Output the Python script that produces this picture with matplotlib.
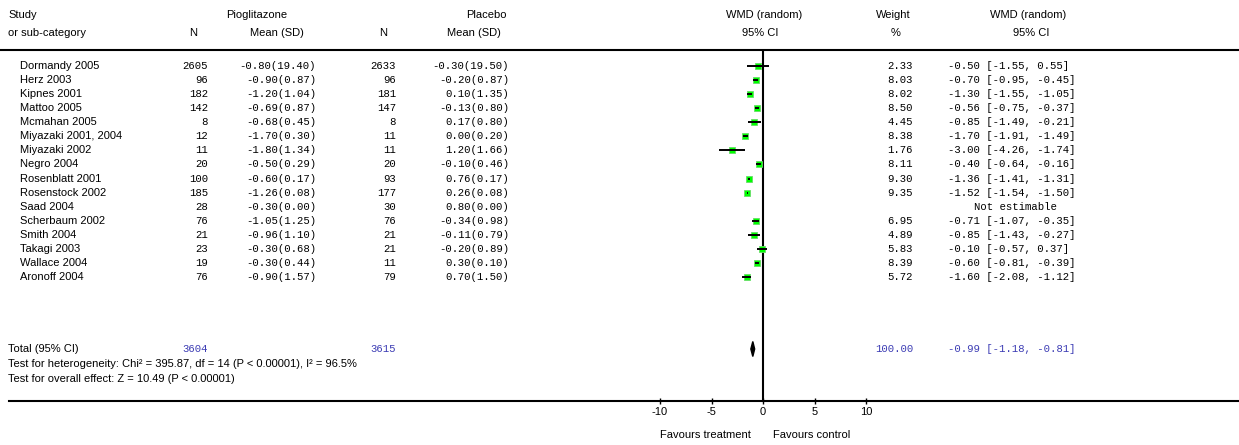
import numpy as np
import matplotlib.pyplot as plt

plt.rcParams['axes.unicode_minus'] = False

# Data
studies = ['Dormandy 2005', 'Herz 2003', 'Kipnes 2001', 'Mattoo 2005', 'Mcmahan 2005',
           'Miyazaki 2001, 2004', 'Miyazaki 2002', 'Negro 2004', 'Rosenblatt 2001',
           'Rosenstock 2002', 'Saad 2004', 'Scherbaum 2002', 'Smith 2004', 'Takagi 2003',
           'Wallace 2004', 'Aronoff 2004']
pio_n = [2605, 96, 182, 142, 8, 12, 11, 20, 100, 185, 28, 76, 21, 23, 19, 76]
pio_mean_sd = ['-0.80(19.40)', '-0.90(0.87)', '-1.20(1.04)', '-0.69(0.87)', '-0.68(0.45)',
               '-1.70(0.30)', '-1.80(1.34)', '-0.50(0.29)', '-0.60(0.17)', '-1.26(0.08)',
               '-0.30(0.00)', '-1.05(1.25)', '-0.96(1.10)', '-0.30(0.68)', '-0.30(0.44)',
               '-0.90(1.57)']
pla_n = [2633, 96, 181, 147, 8, 11, 11, 20, 93, 177, 30, 76, 21, 21, 11, 79]
pla_mean_sd = ['-0.30(19.50)', '-0.20(0.87)', '0.10(1.35)', '-0.13(0.80)', '0.17(0.80)',
               '0.00(0.20)', '1.20(1.66)', '-0.10(0.46)', '0.76(0.17)', '0.26(0.08)',
               '0.80(0.00)', '-0.34(0.98)', '-0.11(0.79)', '-0.20(0.89)', '0.30(0.10)',
               '0.70(1.50)']
weight = [2.33, 8.03, 8.02, 8.50, 4.45, 8.38, 1.76, 8.11, 9.30, 9.35, np.nan,
          6.95, 4.89, 5.83, 8.39, 5.72]
wmd = [-0.50, -0.70, -1.30, -0.56, -0.85, -1.70, -3.00, -0.40, -1.36, -1.52, np.nan,
       -0.71, -0.85, -0.10, -0.60, -1.60]
ci_lo = [-1.55, -0.95, -1.55, -0.75, -1.49, -1.91, -4.26, -0.64, -1.41, -1.54, np.nan,
         -1.07, -1.43, -0.57, -0.81, -2.08]
ci_hi = [0.55, -0.45, -1.05, -0.37, -0.21, -1.49, -1.74, -0.16, -1.31, -1.50, np.nan,
         -0.35, -0.27, 0.37, -0.39, -1.12]
total_n = [3604, 3615]
total_weight = 100.00
total_wmd, total_lo, total_hi = -0.99, -1.18, -0.81
xticks = [-10, -5, 0, 5, 10]

W, H = 1239, 445
fig = plt.figure(figsize=(W / 100, H / 100), dpi=100)

# overlay axes in pixel units for the table text
ax0 = fig.add_axes([0, 0, 1, 1])
ax0.set_xlim(0, W)
ax0.set_ylim(H, 0)
ax0.axis('off')

sans = 'Liberation Sans'
mono = 'Liberation Mono'
fs = 8
fm = 7.7
blue = '#3c3cb4'

def txt(x, y, s, ha='left', fam=sans, size=fs, color='black'):
    ax0.text(x, y, s, ha=ha, va='center', family=fam, fontsize=size, color=color)

# headers
txt(8, 15, 'Study')
txt(8, 33, 'or sub-category')
txt(257, 15, 'Pioglitazone', ha='center')
txt(193, 33, 'N', ha='center')
txt(277, 33, 'Mean (SD)', ha='center')
txt(486, 15, 'Placebo', ha='center')
txt(383, 33, 'N', ha='center')
txt(474, 33, 'Mean (SD)', ha='center')
txt(764, 15, 'WMD (random)', ha='center')
txt(760, 33, '95% CI', ha='center')
txt(893, 15, 'Weight', ha='center')
txt(896, 33, '%', ha='center')
txt(1028, 15, 'WMD (random)', ha='center')
txt(1031, 33, '95% CI', ha='center')

ax0.plot([0, W], [49.5, 49.5], color='black', lw=1.5)
ax0.plot([9, W], [400.5, 400.5], color='black', lw=1.5)

row_y = 66 + 14.07 * np.arange(len(studies))
for i, y in enumerate(row_y):
    txt(20, y, studies[i])
    txt(208, y, str(pio_n[i]), ha='right', fam=mono, size=fm)
    txt(316, y, pio_mean_sd[i], ha='right', fam=mono, size=fm)
    txt(396, y, str(pla_n[i]), ha='right', fam=mono, size=fm)
    txt(509, y, pla_mean_sd[i], ha='right', fam=mono, size=fm)
    if np.isnan(wmd[i]):
        txt(1015, y, 'Not estimable', ha='center', fam=mono, size=fm)
    else:
        txt(913, y, f'{weight[i]:.2f}', ha='right', fam=mono, size=fm)
        txt(948, y, f'{wmd[i]:.2f} [{ci_lo[i]:.2f}, {ci_hi[i]:.2f}]', fam=mono, size=fm)

txt(8, 349, 'Total (95% CI)')
txt(208, 349, str(total_n[0]), ha='right', fam=mono, size=fm, color=blue)
txt(396, 349, str(total_n[1]), ha='right', fam=mono, size=fm, color=blue)
txt(913, 349, f'{total_weight:.2f}', ha='right', fam=mono, size=fm, color=blue)
txt(948, 349, f'{total_wmd:.2f} [{total_lo:.2f}, {total_hi:.2f}]', fam=mono, size=fm, color=blue)
txt(8, 364, 'Test for heterogeneity: Chi² = 395.87, df = 14 (P < 0.00001), I² = 96.5%')
txt(8, 379, 'Test for overall effect: Z = 10.49 (P < 0.00001)')
txt(705, 435, 'Favours treatment', ha='center')
txt(812, 435, 'Favours control', ha='center')

# forest axes: -10..10 spans x pixels 660..866, y in pixel rows 50..400
ax = fig.add_axes([660 / W, (H - 400.5) / H, 206 / W, 350.5 / H])
ax.set_xlim(-10, 10)
ax.set_ylim(400.5, 50)
ax.patch.set_alpha(0)
for s in ['top', 'right', 'left', 'bottom']:
    ax.spines[s].set_visible(False)
ax.set_yticks([])
ax.set_xticks(xticks)
ax.set_xticklabels([str(t) for t in xticks], family=sans, fontsize=fs)
ax.tick_params(axis='x', direction='inout', length=5, width=1, pad=2)
ax.axvline(0, color='black', lw=1.5)

for i, y in enumerate(row_y):
    if np.isnan(wmd[i]):
        continue
    ax.plot(wmd[i], y, marker='s', ms=5, color='#00ff00', mec='#66dd66', mew=0.6)
    ax.plot([ci_lo[i], ci_hi[i]], [y, y], color='black', lw=1.4, solid_capstyle='butt')

ax.fill([total_lo, total_wmd, total_hi, total_wmd], [349, 341.5, 349, 356.5], color='black')

fig.savefig('out.png', dpi=100)
